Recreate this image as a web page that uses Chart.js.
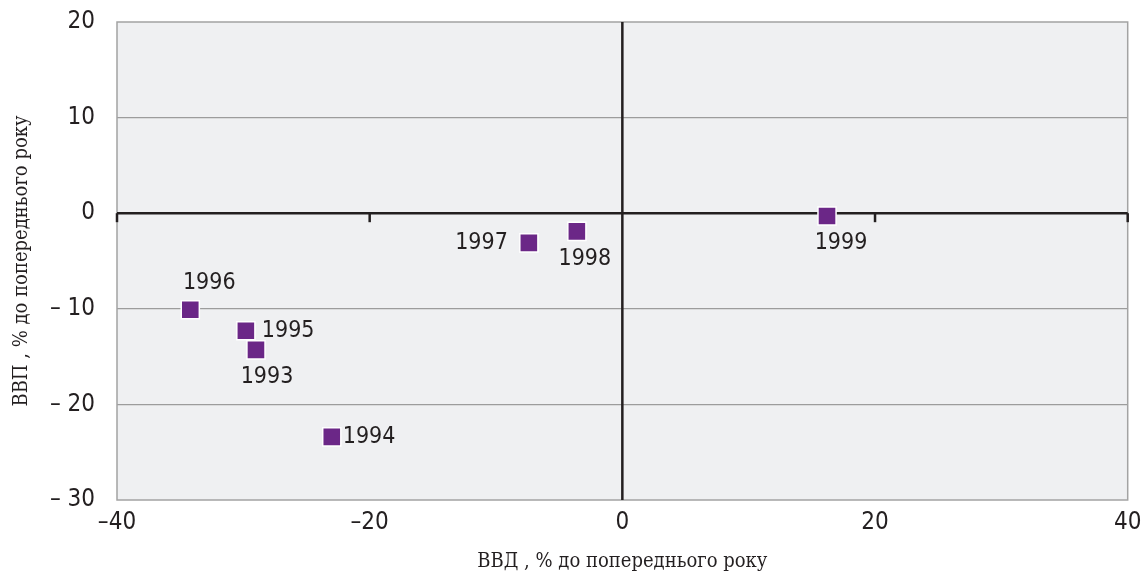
<!DOCTYPE html>
<html>
<head>
<meta charset="utf-8">
<script src="https://cdn.jsdelivr.net/npm/chart.js@4.4.0/dist/chart.umd.min.js"></script>
<style>
  body { margin: 0; background: #fff; }
  #wrap { width: 1142px; height: 576px; }
</style>
</head>
<body>
<div id="wrap"><canvas id="chart"></canvas></div>
<script>
// роки та показники (% до попереднього року)
const years = ['1993', '1994', '1995', '1996', '1997', '1998', '1999'];
const gdvValues = [-29.0, -23.0, -29.8, -34.2, -7.4, -3.6, 16.2]; // ВВД
const gdpValues = [-14.3, -23.4, -12.3, -10.1, -3.1, -1.9, -0.3]; // ВВП
const xTicks = [-40, -20, 0, 20, 40];
const yTicks = [20, 10, 0, -10, -20, -30];

// розташування підписів біля маркерів
const labelPlace = {
    '1993': { dx: 11, dy: 27, align: 'center' },
    '1994': { dx: 11, dy: 0, align: 'left' },
    '1995': { dx: 16, dy: 0, align: 'left' },
    '1996': { dx: 19, dy: -27, align: 'center' },
    '1997': { dx: -21, dy: 0, align: 'right' },
    '1998': { dx: 8, dy: 28, align: 'center' },
    '1999': { dx: 14, dy: 27, align: 'center' }
};

const narrow = '"Liberation Sans Narrow", "DejaVu Sans Condensed", Roboto, sans-serif';
const serif = '"DejaVu Serif Condensed", "Liberation Serif", serif';
const inkColor = '#231f20';

function dash(v) {
    return v < 0 ? '\u2013' + Math.abs(v) : String(v);
}

// фон, рамка, нульові лінії і засічки
const framePlugin = {
    id: 'frame',
    beforeDraw(chart) {
        const { ctx, chartArea: a } = chart;
        ctx.save();
        ctx.fillStyle = '#eff0f2';
        ctx.fillRect(a.left, a.top, a.right - a.left, a.bottom - a.top);
        ctx.restore();
    },
    beforeDatasetsDraw(chart) {
        const { ctx, chartArea: a, scales } = chart;
        ctx.save();
        ctx.strokeStyle = '#a3a3a3';
        ctx.lineWidth = 1.5;
        ctx.strokeRect(a.left, a.top, a.right - a.left, a.bottom - a.top);
        // засічки вниз від осі x
        const y0 = scales.y.getPixelForValue(0);
        ctx.strokeStyle = inkColor;
        ctx.lineWidth = 2.5;
        xTicks.forEach(v => {
            if (v === 0) return;
            const x = scales.x.getPixelForValue(v);
            ctx.beginPath();
            ctx.moveTo(x, y0);
            ctx.lineTo(x, y0 + 9);
            ctx.stroke();
        });
        ctx.beginPath();
        ctx.moveTo(a.left, y0);
        ctx.lineTo(a.right, y0);
        const x0 = scales.x.getPixelForValue(0);
        ctx.moveTo(x0, a.top);
        ctx.lineTo(x0, a.bottom);
        ctx.stroke();
        ctx.restore();
    }
};

// підписи років біля точок
const yearLabels = {
    id: 'yearLabels',
    afterDatasetsDraw(chart) {
        const { ctx } = chart;
        const meta = chart.getDatasetMeta(0);
        ctx.save();
        ctx.font = '23px ' + narrow;
        ctx.fillStyle = inkColor;
        ctx.textBaseline = 'middle';
        meta.data.forEach((pt, i) => {
            const p = labelPlace[years[i]];
            ctx.textAlign = p.align;
            ctx.fillText(years[i], pt.x + p.dx, pt.y + p.dy);
        });
        ctx.restore();
    }
};

const ctx = document.getElementById('chart').getContext('2d');
const chart = new Chart(ctx, {
    type: 'scatter',
    data: {
        datasets: [{
            data: years.map((y, i) => ({ x: gdvValues[i], y: gdpValues[i] })),
            backgroundColor: '#6b2787',
            borderColor: '#ffffff',
            borderWidth: 1.5,
            pointStyle: 'rect',
            pointRadius: 12.8,
            pointHoverRadius: 12.8
        }]
    },
    options: {
        responsive: true,
        maintainAspectRatio: false,
        animation: false,
        layout: { padding: { top: 22, right: 8, left: 0, bottom: 0 } },
        plugins: {
            legend: { display: false },
            tooltip: { enabled: false }
        },
        scales: {
            x: {
                type: 'linear',
                min: -40,
                max: 40,
                afterBuildTicks: s => { s.ticks = xTicks.map(v => ({ value: v })); },
                afterFit: s => {
                    s.height = 76;
                    s.paddingLeft = 0;
                    s.paddingRight = 0;
                },
                border: { display: false },
                grid: { display: false, drawTicks: false },
                ticks: {
                    padding: 8,
                    color: inkColor,
                    font: { family: narrow, size: 24 },
                    maxRotation: 0,
                    callback: v => dash(v)
                },
                title: {
                    display: true,
                    text: 'ВВД , % до попереднього року',
                    color: inkColor,
                    font: { family: serif, size: 20 },
                    padding: { top: 0, bottom: 2 }
                }
            },
            y: {
                type: 'linear',
                min: -30,
                max: 20,
                afterBuildTicks: s => { s.ticks = yTicks.map(v => ({ value: v })); },
                afterFit: s => {
                    s.width = 117;
                    s.paddingTop = 0;
                    s.paddingBottom = 0;
                },
                border: { display: false },
                grid: {
                    drawTicks: false,
                    color: c => (c.tick.value === 20 || c.tick.value === -30 || c.tick.value === 0) ? 'rgba(0,0,0,0)' : '#9c9c9c',
                    lineWidth: 1.2
                },
                ticks: {
                    padding: 22,
                    color: inkColor,
                    font: { family: narrow, size: 24 },
                    callback: v => v < 0 ? '\u2013 ' + Math.abs(v) : String(v)
                },
                title: {
                    display: true,
                    text: 'ВВП , % до попереднього року',
                    color: inkColor,
                    font: { family: serif, size: 20 },
                    padding: { top: 10, bottom: 0 }
                }
            }
        }
    },
    plugins: [framePlugin, yearLabels]
});
</script>
</body>
</html>
